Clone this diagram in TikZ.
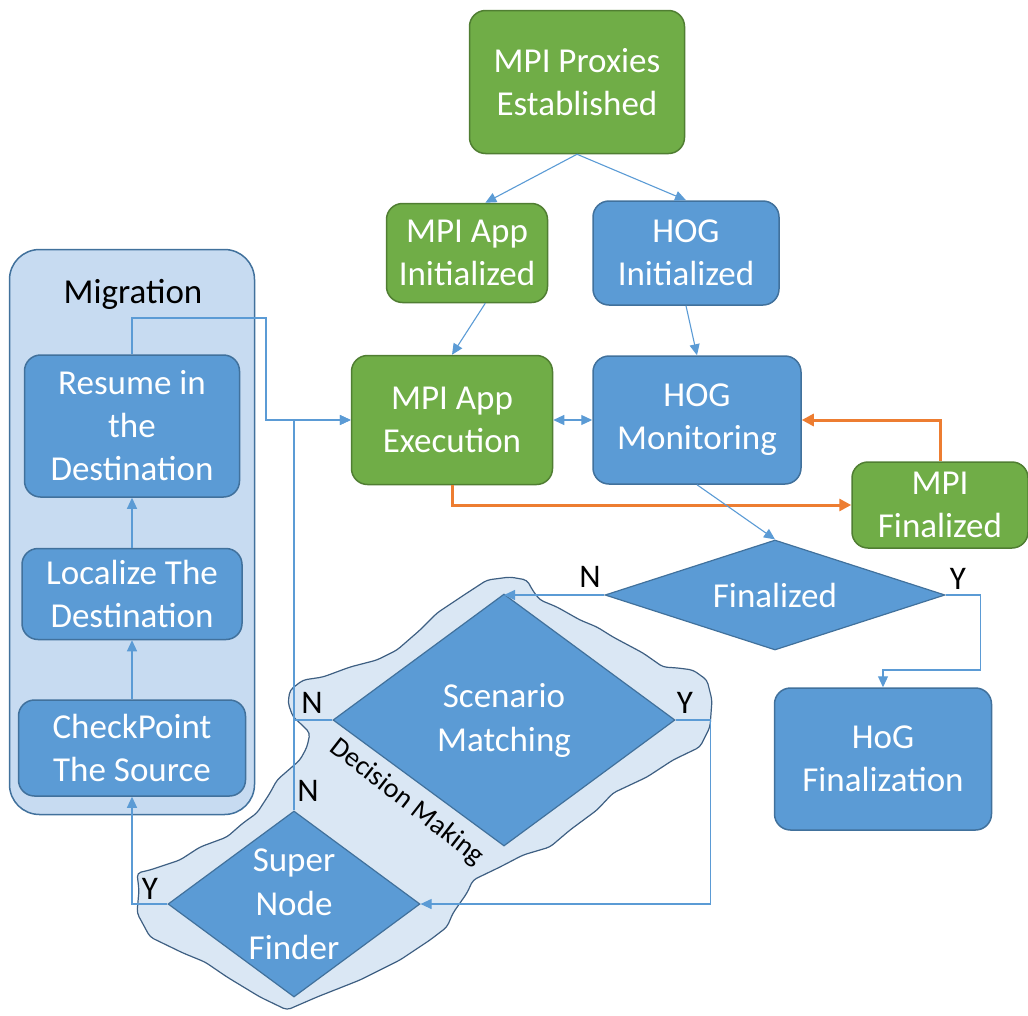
\documentclass[tikz,border=0pt]{standalone}
\usepackage{fontspec}
\setmainfont{Carlito}
\usepackage{tikz}
\usetikzlibrary{arrows.meta,positioning,shapes.geometric}
\usepackage{xcolor}
\definecolor{mpigreen}{HTML}{70AD47}
\definecolor{mpigreenline}{HTML}{507E32}
\definecolor{hogblue}{HTML}{5B9BD5}
\definecolor{hogblueline}{HTML}{41719C}
\definecolor{migfill}{HTML}{C7DBF1}
\definecolor{cloudfill}{HTML}{DAE7F4}
\definecolor{cloudline}{HTML}{3E5F82}
\definecolor{finorange}{HTML}{ED7D31}
\tikzset{
    mpibox/.style={draw=mpigreenline, line width=1.5pt, rounded corners=16pt, fill=mpigreen, text=white, align=center, font=\fontsize{35}{43}\selectfont, inner sep=0pt},
    hogbox/.style={mpibox, draw=hogblueline, fill=hogblue},
    hogdecision/.style={diamond, draw=hogblueline, line width=1.2pt, fill=hogblue, text=white, align=center, font=\fontsize{35}{44}\selectfont, inner sep=0pt},
    migbox/.style={draw=hogblueline, line width=1.5pt, rounded corners=30pt, fill=migfill},
    cloudshape/.style={draw=cloudline, line width=1.2pt, fill=cloudfill, rounded corners=4pt},
    grouptitle/.style={font=\fontsize{35}{43}\selectfont, inner sep=0pt},
    dmlabel/.style={font=\fontsize{28}{30}\selectfont, inner sep=0pt},
    yesno/.style={font=\fontsize{33}{35}\selectfont, inner sep=0pt},
    flowline/.style={draw=hogblue, line width=1.1pt},
    flowarrow/.style={flowline, -{Triangle[length=11pt, width=10pt]}},
    flowboth/.style={flowline, {Triangle[length=11pt, width=10pt]}-{Triangle[length=11pt, width=10pt]}},
    finarrow/.style={draw=finorange, line width=3pt, -{Triangle[length=12pt, width=12pt]}}
}
\begin{document}
\begin{tikzpicture}[x=1pt, y=-1pt]
        \useasboundingbox (0,0) rectangle (1028,1015);

        % groups
        \node[migbox, minimum width=245pt, minimum height=565pt] (migr) at (132,532) {};
        \node[grouptitle] (migtitle) at (133,294) {Migration};
        \draw[cloudshape] (510,577) -- (527,580) -- (533,591) -- (540,600) -- (557,607) -- (580,620) -- (597,627) -- (613,637) -- (643,653) -- (663,667) -- (678,668) -- (693,670) -- (707,680) -- (712,700) -- (710,727) -- (700,747) -- (673,760) -- (647,777) -- (613,793) -- (597,810) -- (570,830) -- (550,847) -- (523,855) -- (500,867) -- (473,880) -- (467,893) -- (453,913) -- (447,927) -- (430,940) -- (400,960) -- (360,980) -- (317,997) -- (287,1010) -- (260,997) -- (227,977) -- (205,962) -- (183,953) -- (150,937) -- (137,913) -- (139,890) -- (137,873) -- (150,870) -- (180,860) -- (200,847) -- (227,837) -- (243,823) -- (257,813) -- (270,793) -- (277,780) -- (300,760) -- (307,747) -- (310,733) -- (300,723) -- (293,717) -- (288,703) -- (290,690) -- (303,680) -- (323,677) -- (350,667) -- (377,660) -- (397,650) -- (420,630) -- (437,613) -- (467,593) -- (487,580) -- cycle;
        \node[dmlabel, rotate=-38] (dmtitle) at (407,802) {Decision Making};

        % MPI and HOG
        \node[mpibox, minimum width=215pt, minimum height=143pt] (proxies) at (577,82) {MPI Proxies\\Established};
        \node[mpibox, minimum width=161pt, minimum height=99pt] (appinit) at (467,253) {MPI App\\Initialized};
        \node[hogbox, minimum width=186pt, minimum height=104pt, right=44pt of appinit] (hoginit) {HOG\\Initialized};
        \node[mpibox, minimum width=201pt, minimum height=129pt] (appexec) at (452,420) {MPI App\\Execution};
        \node[hogbox, minimum width=208pt, minimum height=128pt, right=39pt of appexec] (hogmon) {HOG\\Monitoring};
        \node[mpibox, minimum width=176pt, minimum height=86pt] (mpifin) at (940,505) {MPI\\Finalized};
        \node[hogdecision, minimum width=340pt, minimum height=110pt, aspect=3.1] (fin) at (775,595) {Finalized};
        \node[hogbox, minimum width=217pt, minimum height=142pt] (hogfin) at (883,759) {HoG\\Finalization};

        % decision making
        \node[hogdecision, minimum width=342pt, minimum height=252pt, aspect=1.36] (scen) at (504,720) {Scenario\\Matching};
        \node[hogdecision, minimum width=252pt, minimum height=186pt, aspect=1.35] (sfind) at (294,904) {Super\\Node\\Finder};

        % migration
        \node[hogbox, minimum width=215pt, minimum height=142pt] (resume) at (132,426) {Resume in\\the\\Destination};
        \node[hogbox, minimum width=220pt, minimum height=91pt, below=50pt of resume] (localize) {Localize The\\Destination};
        \node[hogbox, minimum width=227pt, minimum height=96pt, below=59pt of localize] (checkpoint) {CheckPoint\\The Source};
        \coordinate (mjoin) at (266,318);

        % Y / N
        \node[yesno] (finno) at (590,577) {N};
        \node[yesno] (finyes) at (958,579) {Y};
        \node[yesno] (scenno) at (312,703) {N};
        \node[yesno] (scenyes) at (685,703) {Y};
        \node[yesno] (sfindno) at (308,791) {N};
        \node[yesno] (sfindyes) at (150,889) {Y};

        \draw[flowarrow] (proxies.south) -- (appinit.70);
        \draw[flowarrow] (proxies.south) -- (hoginit.north);
        \draw[flowarrow] (appinit.-70) -- (appexec.north);
        \draw[flowarrow] (hoginit.south) -- (hogmon.north);
        \draw[flowboth] (appexec.east) -- (hogmon.west);
        \draw[finarrow] (appexec.south) |- (mpifin.west);
        \draw[finarrow] (mpifin.north) |- (hogmon.east);
        \draw[flowarrow] (hogmon.south) -- (fin.north);
        \draw[flowarrow] (fin.west) -- (fin.west -| scen.north);
        \draw[flowarrow] (fin.east) -- ++(35,0) -- ++(0,75) -| (hogfin.north);
        \draw[flowline] (scen.west) -| (sfind.north |- appexec.west);
        \draw[flowarrow] (sfind.north) |- (appexec.west);
        \draw[flowarrow] (scen.east) -- ++(35,0) |- (sfind.east);
        \draw[flowarrow] (sfind.west) -| (checkpoint.south);
        \draw[flowarrow] (checkpoint.north) -- (localize.south);
        \draw[flowarrow] (localize.north) -- (resume.south);
        \draw[flowarrow] (resume.north) |- (mjoin) |- (appexec.west);
    \end{tikzpicture}
\end{document}
